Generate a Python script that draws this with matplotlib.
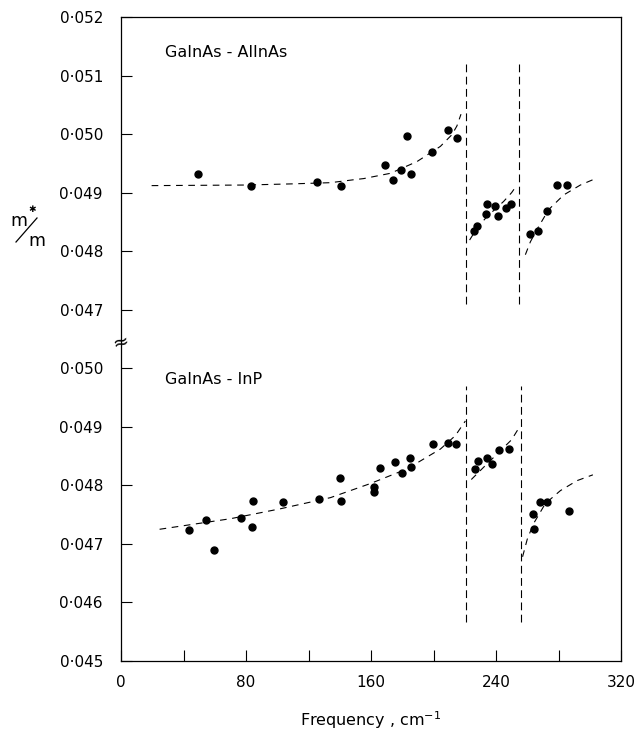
import matplotlib
matplotlib.use("Agg")
import matplotlib.pyplot as plt
from matplotlib.lines import Line2D

# GaInAs - AlInAs (upper part of the broken axis)
alinas_freq = [49, 83.4, 125.6, 141, 168.7, 174.1, 179.2, 183.2, 185.4, 199.2, 209, 214.8,
               225.9, 227.8, 234.2, 233.6, 239.6, 241.5, 246.2, 249.6,
               262, 266.6, 272.4, 279, 285.6]
alinas_mass = [0.04931, 0.04912, 0.04919, 0.04912, 0.04948, 0.04921, 0.04938, 0.04996, 0.04931,
               0.04969, 0.05007, 0.04994,
               0.04834, 0.04843, 0.04880, 0.04863, 0.04878, 0.04860, 0.04874, 0.04881,
               0.04830, 0.04834, 0.04869, 0.04913, 0.04913]

# dashed theory curves
alinas_fit1_freq = [19.6, 80, 110, 134, 148.9, 155.3, 172.4, 189.4, 204.4, 211.8, 215, 217.6]
alinas_fit1_mass = [0.04912, 0.04913, 0.04915, 0.04917, 0.04922, 0.04924, 0.04933, 0.04953,
                    0.04979, 0.04999, 0.05014, 0.05034]
alinas_fit2_freq = [223.1, 228, 234.2, 244.9, 250, 253.4]
alinas_fit2_mass = [0.04819, 0.04840, 0.04859, 0.04885, 0.04900, 0.04913]
alinas_fit3_freq = [258.8, 262, 266.2, 273.7, 283.3, 294, 304.6]
alinas_fit3_mass = [0.04794, 0.04816, 0.04837, 0.04871, 0.04896, 0.04913, 0.04925]
alinas_res = [221, 255]
alinas_res_span = [0.04709, 0.05127]

# GaInAs - InP (lower part)
inp_freq = [43.7, 54.2, 59.5, 76.6, 83.6, 84.7, 103.7, 126.9, 139.9, 141, 161.9, 161.9, 165.8,
            175.1, 179.6, 185.2, 185.4, 199.4, 209.5, 214.6,
            226.3, 228.2, 234.4, 237.4, 241.7, 248.1,
            263.7, 264.1, 267.9, 272.8, 286.5]
inp_mass = [0.04724, 0.04741, 0.04690, 0.04745, 0.04729, 0.04774, 0.04771, 0.04776, 0.04812,
            0.04773, 0.04797, 0.04789, 0.04829, 0.04840, 0.04821, 0.04846, 0.04832, 0.04871,
            0.04872, 0.04871,
            0.04828, 0.04841, 0.04846, 0.04836, 0.04860, 0.04862,
            0.04751, 0.04725, 0.04772, 0.04772, 0.04756]

inp_fit1_freq = [24.7, 70, 102, 134, 159.5, 183, 204.4, 214, 220.4]
inp_fit1_mass = [0.04725, 0.04743, 0.04760, 0.04779, 0.04803, 0.04828, 0.04862, 0.04885, 0.04910]
inp_fit2_freq = [224.2, 232.1, 242.8, 250, 255.1]
inp_fit2_mass = [0.04810, 0.04831, 0.04859, 0.04878, 0.04900]
inp_fit3_freq = [257, 260, 264.1, 271.6, 281.2, 291.8, 302]
inp_fit3_mass = [0.04678, 0.04708, 0.04735, 0.04769, 0.04791, 0.04808, 0.04818]
inp_res = [221, 256]
inp_res_span = [0.04567, 0.04970]

ytick_labels = ["0·045", "0·046", "0·047", "0·048", "0·049", "0·050",
                "0·047", "0·048", "0·049", "0·050", "0·051", "0·052"]
xticks = [0, 40, 80, 120, 160, 200, 240, 280, 320]
xtick_labels = ["0", "", "80", "", "160", "", "240", "", "320"]


# both parts share one axis: lower block 0.045-0.050 -> 0..5, upper 0.047-0.052 -> 6..11
def lower(vals):
    return [(v - 0.045) * 1000 for v in vals]


def upper(vals):
    return [(v - 0.047) * 1000 + 6 for v in vals]


plt.rcParams["font.family"] = "DejaVu Sans"
fig = plt.figure(figsize=(6.36, 7.38), dpi=100)
ax = fig.add_axes([121 / 636, 77 / 738, 500 / 636, 644 / 738])

curve = dict(color="black", lw=0.8, dashes=(6, 5))
vline = dict(color="black", lw=0.8, dashes=(7, 4))

ax.plot(alinas_freq, upper(alinas_mass), "o", color="black", ms=5)
ax.plot(inp_freq, lower(inp_mass), "o", color="black", ms=5)

for f, m in [(alinas_fit1_freq, alinas_fit1_mass), (alinas_fit2_freq, alinas_fit2_mass),
             (alinas_fit3_freq, alinas_fit3_mass)]:
    ax.plot(f, upper(m), **curve)
for f, m in [(inp_fit1_freq, inp_fit1_mass), (inp_fit2_freq, inp_fit2_mass),
             (inp_fit3_freq, inp_fit3_mass)]:
    ax.plot(f, lower(m), **curve)

for r in alinas_res:
    ax.plot([r, r], upper(alinas_res_span), **vline)
for r in inp_res:
    ax.plot([r, r], lower(inp_res_span), **vline)

ax.set_xlim(0, 320)
ax.set_ylim(0, 11)
ax.set_xticks(xticks)
ax.set_xticklabels(xtick_labels)
ax.set_yticks(range(12))
ax.set_yticklabels(ytick_labels)
ax.tick_params(direction="in", length=8, width=0.8, labelsize=11)
ax.tick_params(axis="y", pad=13)
ax.tick_params(axis="x", pad=10)
for s in ax.spines.values():
    s.set_linewidth(0.9)

ax.text(28, upper([0.0514])[0], "GaInAs - AlInAs", fontsize=11.5, va="center")
ax.text(28, lower([0.0498])[0], "GaInAs - InP", fontsize=11.5, va="center")

# axis break symbol crossing the left spine
ax.text(0, 5.45, "≈", transform=ax.get_yaxis_transform(), fontsize=14,
        ha="center", va="center", rotation=15)

ax.set_xlabel("Frequency , cm$^{-1}$", fontsize=11.5, labelpad=14)

# m*/m label written as a slanted fraction
fig.text(19 / 636, 1 - 221 / 738, "m", fontsize=12.5, ha="center", va="center")
fig.text(32 / 636, 1 - 210 / 738, "✱", fontsize=6.5, ha="center", va="center")
fig.text(37 / 636, 1 - 241 / 738, "m", fontsize=12.5, ha="center", va="center")
fig.add_artist(Line2D([16 / 636, 37 / 636], [1 - 242 / 738, 1 - 218 / 738],
                      transform=fig.transFigure, color="black", lw=0.9))

fig.savefig("out.png", dpi=100)
